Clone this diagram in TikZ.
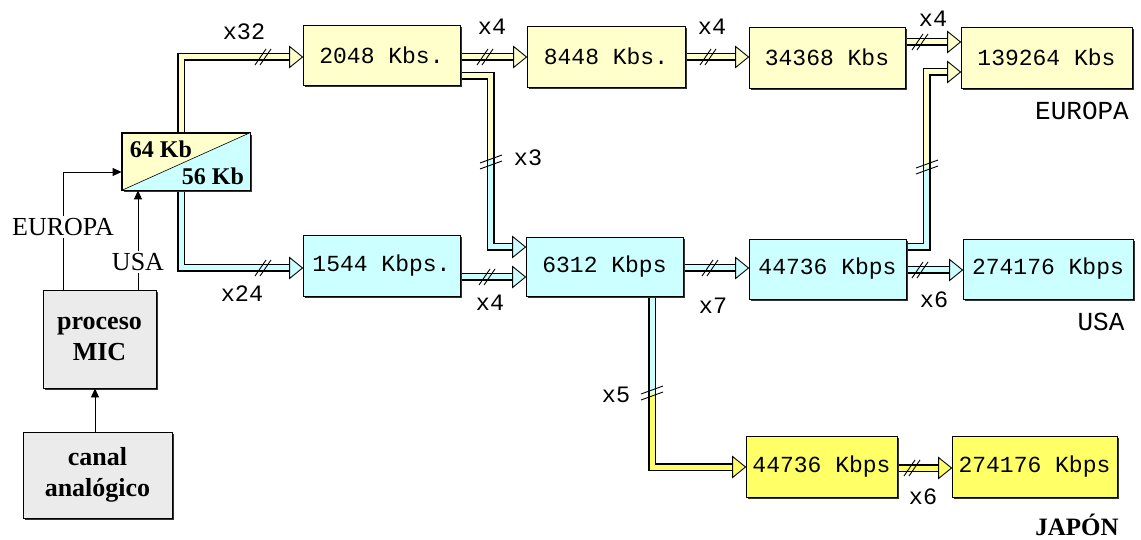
\documentclass[tikz,border=0pt]{standalone}
\usepackage{fontspec}
\setmainfont{Liberation Serif}
\newfontfamily\monof{Liberation Mono}
\usetikzlibrary{calc,shadows,backgrounds,arrows.meta}
\definecolor{lyel}{HTML}{FFFFCC}
\definecolor{lcya}{HTML}{CCFFFF}
\definecolor{jyel}{HTML}{FFFF66}
\definecolor{lgry}{HTML}{EBEBEB}
\newcommand\tubepath[2]{%
  \begin{scope}[on background layer]
    \draw[line width=8pt, line join=miter] #2;
    \draw[line width=5pt, draw=#1, line join=miter] #2;
  \end{scope}}
\newcommand\tubeinner[2]{%
  \begin{scope}[on background layer]
    \draw[line width=5pt, draw=#1, line join=miter] #2;
  \end{scope}}
\newcommand\ahead[2]{\draw[line width=0.9pt, fill=#1, line join=miter] ($(#2)+(-13,-10.5)$) -- (#2) -- ($(#2)+(-13,10.5)$) -- cycle;}
\tikzset{
  hmark/.pic={\draw[line width=0.9pt] (-8,8)--(3,-8) (-3,8)--(8,-8);},
  vmark/.pic={\draw[line width=0.9pt] (-11,7)--(11,-1) (-11,1)--(11,-7);}
}
\begin{document}
\begin{tikzpicture}[x=1pt,y=-1pt,
  box/.style={draw, line width=0.9pt, inner sep=0pt, font=\monof\fontsize{23}{26}\selectfont,
    drop shadow={shadow xshift=2pt,shadow yshift=-2pt,opacity=1,fill=black!80}},
  ybox/.style={box, fill=lyel},
  cbox/.style={box, fill=lcya},
  jbox/.style={box, fill=jyel},
  gbox/.style={box, fill=lgry, align=center, font=\bfseries\fontsize{26}{31}\selectfont},
  mlab/.style={font=\monof\fontsize{23.5}{26}\selectfont, inner sep=0pt},
  slab/.style={font=\fontsize{26}{30}\selectfont, inner sep=2pt},
  sig/.style={line width=0.9pt, -{Triangle[length=9pt,width=8pt]}}
]
\useasboundingbox (0,0) rectangle (1141,540);

% boxes
\node[ybox, minimum width=157pt, minimum height=60pt] (b2048) at (381.5,55) {2048 Kbs.};
\node[ybox, minimum width=158pt, minimum height=61pt] (b8448) at (606,56.5) {8448 Kbs.};
\node[ybox, minimum width=156pt, minimum height=61pt] (b34368) at (827,57.5) {34368 Kbs};
\node[ybox, minimum width=171pt, minimum height=61pt] (b139264) at (1046.5,57.5) {139264 Kbs};
\node[cbox, minimum width=157pt, minimum height=61pt] (b1544) at (381.5,265.5) {1544 Kbps.};
\node[cbox, minimum width=157pt, minimum height=59pt] (b6312) at (604.5,266.5) {6312 Kbps};
\node[cbox, minimum width=157pt, minimum height=60pt] (b44736u) at (827.5,269) {44736 Kbps};
\node[cbox, minimum width=170pt, minimum height=60pt] (b274176u) at (1048,269) {274176 Kbps};
\node[jbox, minimum width=151pt, minimum height=61pt] (b44736j) at (821.5,466.5) {44736 Kbps};
\node[jbox, minimum width=165pt, minimum height=61pt] (b274176j) at (1034.5,466.5) {274176 Kbps};
\node[gbox, minimum width=113pt, minimum height=98pt] (mic) at (99.5,339) {proceso\\MIC};
\node[gbox, minimum width=149pt, minimum height=86pt] (canal) at (97.5,475) {canal\\analógico};
\node[box, fill=lyel, minimum width=128pt, minimum height=57pt] (mux) at (186,161.5) {};
\fill[lcya] (mux.south west) -- (mux.north east) -- (mux.south east) -- cycle;
\draw[line width=0.6pt] (mux.south west) -- (mux.north east);
\draw[line width=0.9pt] (mux.south west) rectangle (mux.north east);
\node[font=\bfseries\fontsize{24}{26}\selectfont, inner sep=0pt] (l64) at (161,149) {64 Kb};
\node[font=\bfseries\fontsize{24}{26}\selectfont, inner sep=0pt] (l56) at (213,176) {56 Kb};

% tips and starts
\coordinate (t1) at ($(b2048.west)+(0,2)$);
\coordinate (t2) at ($(b8448.west)+(0,0.5)$);
\coordinate (t3) at ($(b6312.west)+(0,-19.5)$);
\coordinate (t4) at ($(b34368.west)+(0,-0.5)$);
\coordinate (t5) at ($(b139264.west)+(0,-15.5)$);
\coordinate (t6) at ($(b139264.west)+(0,14.5)$);
\coordinate (t7) at ($(b1544.west)+(0,2.5)$);
\coordinate (t8) at ($(b6312.west)+(0,10.5)$);
\coordinate (t9) at ($(b44736u.west)+(0,-1)$);
\coordinate (t10) at ($(b274176u.west)+(0,1)$);
\coordinate (t11) at ($(b44736j.west)+(0,0.5)$);
\coordinate (t12) at ($(b274176j.west)+(0,1.5)$);
\coordinate (s1) at ($(mux.north)+(-5,0)$);
\coordinate (s7) at ($(mux.south)+(-5,0)$);
\coordinate (s3) at ($(b2048.east)+(0,21)$);
\coordinate (s6) at ($(b44736u.east)+(0,-22)$);
\coordinate (s11) at ($(b6312.south)+(47.5,0)$);

% tubes
\tubepath{lyel}{(s1) |- ($(t1)+(-12,0)$)}
\ahead{lyel}{t1}
\tubepath{lyel}{(b2048.east |- t2) -- ($(t2)+(-12,0)$)}
\ahead{lyel}{t2}
\tubepath{lcya}{(s3) -| ($(t3)+(-35,0)$) -- ($(t3)+(-12,0)$)}
\tubeinner{lyel}{(s3) -| ($(t3)+(-35,-87)$)}
\ahead{lcya}{t3}
\tubepath{lyel}{(b8448.east |- t4) -- ($(t4)+(-12,0)$)}
\ahead{lyel}{t4}
\tubepath{lyel}{(b34368.east |- t5) -- ($(t5)+(-12,0)$)}
\ahead{lyel}{t5}
\tubepath{lyel}{(s6) -| ($(t6)+(-34,0)$) -- ($(t6)+(-12,0)$)}
\tubeinner{lcya}{(s6) -| ($(t6)+(-34,95)$)}
\ahead{lyel}{t6}
\tubepath{lcya}{(s7) |- ($(t7)+(-12,0)$)}
\ahead{lcya}{t7}
\tubepath{lcya}{(b1544.east |- t8) -- ($(t8)+(-12,0)$)}
\ahead{lcya}{t8}
\tubepath{lcya}{(b6312.east |- t9) -- ($(t9)+(-12,0)$)}
\ahead{lcya}{t9}
\tubepath{lcya}{(b44736u.east |- t10) -- ($(t10)+(-12,0)$)}
\ahead{lcya}{t10}
\tubepath{jyel}{(s11) |- ($(t11)+(-12,0)$)}
\tubeinner{lcya}{(s11) -- ($(s11)+(0,97)$)}
\ahead{jyel}{t11}
\tubepath{jyel}{(b44736j.east |- t12) -- ($(t12)+(-12,0)$)}
\ahead{jyel}{t12}

% marks
\pic at (263,57) {hmark};
\pic at (485,57) {hmark};
\pic at (708,57) {hmark};
\pic at (920,42) {hmark};
\pic at (263,268) {hmark};
\pic at (487,277) {hmark};
\pic at (710,268) {hmark};
\pic at (920,270) {hmark};
\pic at (912,468) {hmark};
\pic at (491,162) {vmark};
\pic at (927,167) {vmark};
\pic at (652,393) {vmark};

% multiplex labels
\node[mlab] (lx32) at (244,32) {x32};
\node[mlab] (lx4a) at (492,27) {x4};
\node[mlab] (lx4b) at (712,27) {x4};
\node[mlab] (lx4c) at (933,19) {x4};
\node[mlab] (lx3) at (528,158) {x3};
\node[mlab] (lx24) at (242,294) {x24};
\node[mlab] (lx4d) at (490,303) {x4};
\node[mlab] (lx7) at (713,306) {x7};
\node[mlab] (lx6a) at (934,300) {x6};
\node[mlab] (lx5) at (616,395) {x5};
\node[mlab] (lx6b) at (923,497) {x6};

% region labels
\node[mlab, font=\monof\fontsize{26}{28}\selectfont] (leur) at (1082,111) {EUROPA};
\node[mlab, font=\monof\fontsize{26}{28}\selectfont] (lusa) at (1101,322) {USA};
\node[slab, font=\bfseries\fontsize{25}{28}\selectfont, anchor=base] (ljap) at (1077,535) {JAPÓN};

% signal arrows
\coordinate (e0) at ($(mic.north)+(-36.5,0)$);
\coordinate (u0) at ($(mic.north)+(38.5,0)$);
\coordinate (c0) at ($(canal.north)+(-2.5,0)$);
\draw[sig] (e0) |- ($(mux.west)+(0,10.5)$);
\draw[sig] (u0) -- (u0 |- mux.south);
\draw[sig] (c0) -- (c0 |- mic.south);
\node[slab, fill=white] (leu) at (63,227) {EUROPA};
\node[slab, fill=white] (lus) at (138,262) {USA};
\end{tikzpicture}
\end{document}
